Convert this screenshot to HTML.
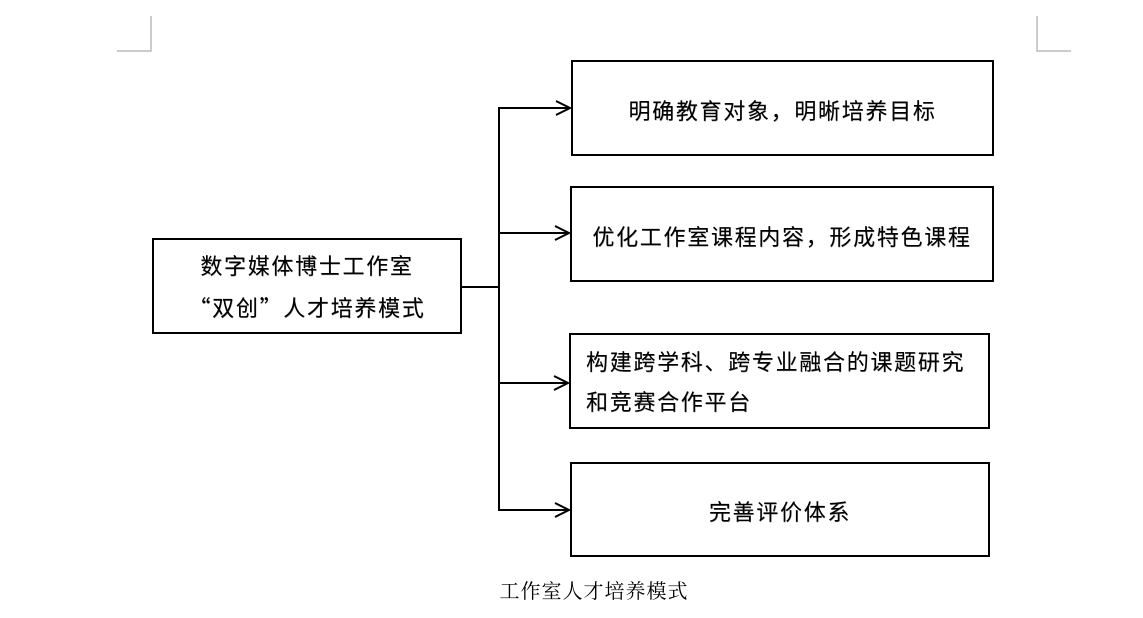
<!DOCTYPE html>
<html><head><meta charset="utf-8"><style>
body{margin:0;width:1143px;height:618px;background:#fff;position:relative;overflow:hidden;font-family:"Liberation Sans","Noto Sans CJK SC",sans-serif;}
.b{position:absolute;border:2px solid #000;box-sizing:border-box;display:flex;align-items:center;justify-content:center;font-size:22px;letter-spacing:1.7px;color:#000;text-shadow:0.3px 0.3px 0 #888;padding-top:3px;}
.q{font-family:"Noto Sans CJK SC",sans-serif;}
</style></head><body>
<svg width="1143" height="618" style="position:absolute;left:0;top:0">
<g stroke="#bbb" stroke-width="1.5" fill="none">
<polyline points="117,51 151,51 151,16"/>
<polyline points="1071,51 1037,51 1037,16"/>
</g>
<g stroke="#000" stroke-width="2" fill="none">
<line x1="461" y1="287" x2="499" y2="287"/>
<line x1="499" y1="107" x2="499" y2="511"/>
<line x1="499" y1="108" x2="570" y2="108"/>
<line x1="499" y1="233" x2="569" y2="233"/>
<line x1="499" y1="383" x2="568" y2="383"/>
<line x1="499" y1="510" x2="569" y2="510"/>
<polyline points="556,101 570,108 556,115"/>
<polyline points="555,226 569,233 555,240"/>
<polyline points="554,376 568,383 554,390"/>
<polyline points="555,503 569,510 555,517"/>
</g>
</svg>
<div class="b" style="left:152px;top:238px;width:310px;height:96px;"><div style="text-align:center;line-height:40px;">数字媒体博士工作室<br><span class="q">“双创”</span>人才培养模式</div></div>
<div class="b" style="left:571px;top:60px;width:423px;height:96px;">明确教育对象，明晰培养目标</div>
<div class="b" style="left:570px;top:186px;width:424px;height:96px;">优化工作室课程内容，形成特色课程</div>
<div class="b" style="left:569px;top:333px;width:421px;height:96px;justify-content:flex-start;padding-left:15px;"><div style="line-height:40px;">构建跨学科、跨专业融合的课题研究<br>和竞赛合作平台</div></div>
<div class="b" style="left:570px;top:462px;width:420px;height:95px;">完善评价体系</div>
<div style="position:absolute;left:0;width:1188px;top:575px;text-align:center;font-family:'Liberation Serif','Noto Serif CJK SC',serif;font-size:20px;letter-spacing:1px;">工作室人才培养模式</div>
</body></html>
